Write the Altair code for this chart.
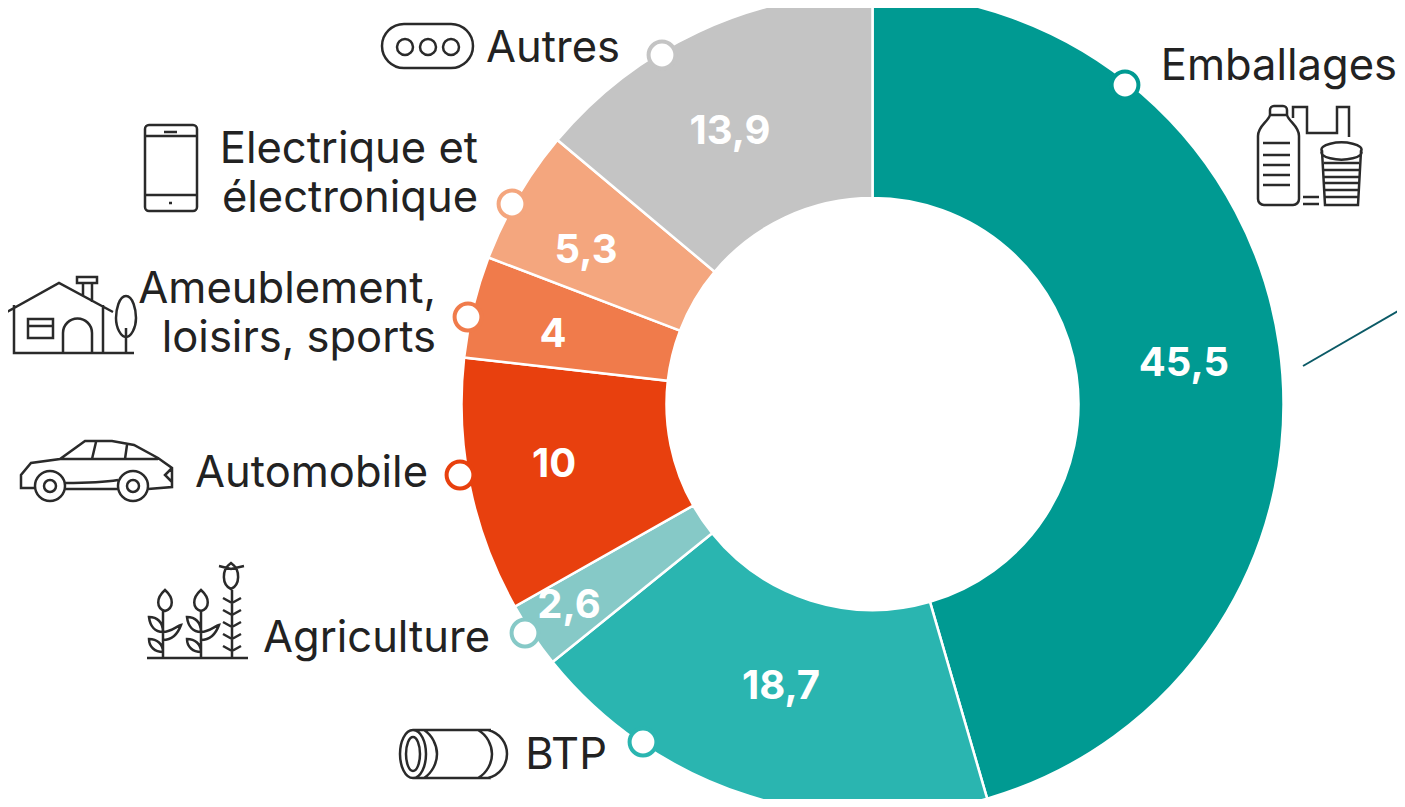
import altair as alt
import pandas as pd

# ---- chart values -------------------------------------------------------
SECTORS = ["Emballages", "BTP", "Agriculture", "Automobile",
           "Ameublement, loisirs, sports", "Electrique et électronique", "Autres"]
VALUES = [45.5, 18.7, 2.6, 10, 4, 5.3, 13.9]
VALUE_TEXT = ["45,5", "18,7", "2,6", "10", "4", "5,3", "13,9"]
COLOURS = ["#009A92", "#2AB5B0", "#86C9C7", "#E8400E", "#F07B4B", "#F4A67E", "#C4C4C4"]
CATEGORY_LINES = ["Emballages", "BTP", "Agriculture", "Automobile", "Ameublement,",
                  "loisirs, sports", "Electrique et", "électronique", "Autres"]

# ---- layout (page pixels) -----------------------------------------------
OFF = 8
CX, CY = 872.5, 404
R_OUT, R_IN = 411, 206
VALUE_X = [1184, 781, 569, 554, 553, 586, 730]
VALUE_Y = [364, 687, 606, 465, 335, 251, 132]
LABEL_X = [1397, 607, 490, 428, 436, 436, 478, 478, 620]
LABEL_Y = [80, 769, 652, 487, 303, 352, 163, 212, 62]
DOT_X = [1125, 643, 525, 460, 468, 512, 662]
DOT_Y = [85, 742, 633, 475, 317, 204, 55]

ICONS = [
    # Autres: pill with three rings
    "M404 24H451A22 22 0 0 1 451 68H404A22 22 0 0 1 404 24Z"
    "M413 47A8 8 0 1 1 397 47A8 8 0 1 1 413 47Z"
    "M436 47A8 8 0 1 1 420 47A8 8 0 1 1 436 47Z"
    "M459 47A8 8 0 1 1 443 47A8 8 0 1 1 459 47Z",
    # phone
    "M149 125H193A4 4 0 0 1 197 129V207A4 4 0 0 1 193 211H149A4 4 0 0 1 145 207V129A4 4 0 0 1 149 125Z"
    "M145 136H197M145 195H197M164 132H177M169 203H172",
    # house with tree
    "M5 313L59 283L113 312M14 305V353H134M103 305V353M28 319H53V338H28ZM28 326H53"
    "M63 353V333A14 14 0 0 1 92 333V353M77 277H97V283H77ZM83 283V296M92 283V302"
    "M126 296C133 296 136 310 136 318C136 328 131 337 126 337C121 337 116 328 116 318C116 310 119 296 126 296Z"
    "M126 328V353",
    # car
    "M35 488H21V475L31 463L60 459L85 441H112L134 445L158 458L172 468V487L148 489"
    "M60 459H158M96 442L92 459M127 445L125 459M65 483C85 483 100 483 118 480M65 489H118M172 468L165 475L172 482"
    "M65 486A15 15 0 1 1 35 486A15 15 0 1 1 65 486Z M56 486A6 6 0 1 1 44 486A6 6 0 1 1 56 486Z"
    "M148 486A15 15 0 1 1 118 486A15 15 0 1 1 148 486Z M139 486A6 6 0 1 1 127 486A6 6 0 1 1 139 486Z",
    # plants
    "M147 658H248M163 658V610M201 658V610M232 658V588"
    "M165 590C174 598 174 608 165 611C156 608 156 598 165 590Z"
    "M201 590C210 598 210 608 201 611C192 608 192 598 201 590Z"
    "M231 563C241 570 240 585 231 589C222 585 221 570 231 563ZM231 569L219 566M231 569L244 566"
    "M163 632C155 632 150 626 149 617C157 617 163 622 163 632ZM163 632C171 632 177 626 181 625C177 636 170 640 163 640"
    "M163 652C155 652 149 647 149 639C157 639 163 644 163 652Z"
    "M201 632C193 632 188 626 187 617C195 617 201 622 201 632ZM201 632C209 632 215 626 219 625C215 636 208 640 201 640"
    "M201 652C193 652 187 647 187 639C195 639 201 644 201 652Z"
    "M232 603L223 598M232 603L241 598M232 615L223 610M232 615L241 610M232 627L223 622M232 627L241 622"
    "M232 639L223 634M232 639L241 634M232 651L223 646M232 651L241 646",
    # pipe
    "M413 730H491M413 778H491M413 730C405 730 400 742 400 754C400 766 405 778 413 778C421 778 426 766 426 754C426 742 421 730 413 730Z"
    "M413 737C409 737 406 745 406 754C406 763 409 771 413 771C417 771 420 763 420 754C420 745 417 737 413 737Z"
    "M424 730C432 735 437 745 437 754C437 763 432 773 424 778"
    "M478 730C487 735 492 745 492 754C492 763 487 773 478 778"
    "M488 730C500 733 507 743 507 754C507 765 500 775 488 778",
    # bottle, bag, cup
    "M1270 115V110A4 4 0 0 1 1274 106H1283A4 4 0 0 1 1287 110V115H1270ZM1270 115C1268 122 1258 126 1258 136V199A6 6 0 0 0 1264 205H1293A6 6 0 0 0 1299 199V136C1299 126 1289 122 1287 115"
    "M1263 143H1290M1263 155H1290M1263 165H1290M1263 175H1290M1263 185H1290"
    "M1293 118V107H1307V133H1337V107H1349V137"
    "M1322 151A20 7 0 1 1 1361 151A20 7 0 1 1 1322 151ZM1322 151L1325 205H1358L1361 151"
    "M1324 163H1359M1324 170H1359M1324 177H1359M1325 183H1358M1325 190H1358M1325 197H1358"
    "M1303 197H1319M1303 204H1319",
]

sectors = pd.DataFrame({"sector": SECTORS, "value": VALUES, "colour": COLOURS,
                        "idx": range(len(VALUES)), "text": VALUE_TEXT,
                        "vx": [v - OFF for v in VALUE_X], "vy": [v - OFF for v in VALUE_Y],
                        "dx": [v - OFF for v in DOT_X], "dy": [v - OFF for v in DOT_Y]})
labels = pd.DataFrame({"line": CATEGORY_LINES,
                       "lx": [v - OFF for v in LABEL_X], "ly": [v - OFF for v in LABEL_Y]})

donut = alt.Chart(sectors).mark_arc(
    innerRadius=R_IN, outerRadius=R_OUT, stroke="white", strokeWidth=2.5
).encode(
    theta=alt.Theta("value:Q", stack=True),
    order=alt.Order("idx:Q"),
    color=alt.Color("colour:N", scale=None, legend=None),
    x=alt.value(CX - OFF), y=alt.value(CY - OFF),
)

dots = alt.Chart(sectors).mark_point(
    filled=True, fill="white", size=720, strokeWidth=4, opacity=1
).encode(
    x=alt.X("dx:Q", scale=None, axis=None),
    y=alt.Y("dy:Q", scale=None, axis=None),
    stroke=alt.Stroke("colour:N", scale=None, legend=None),
)

value_text = alt.Chart(sectors).mark_text(
    font="Inter", fontSize=40, fontWeight=700, color="white", align="center", baseline="middle"
).encode(
    x=alt.X("vx:Q", scale=None, axis=None),
    y=alt.Y("vy:Q", scale=None, axis=None),
    text="text:N",
)

label_text = alt.Chart(labels).mark_text(
    font="Inter", fontSize=43.5, color="#222222", align="right", baseline="alphabetic"
).encode(
    x=alt.X("lx:Q", scale=None, axis=None),
    y=alt.Y("ly:Q", scale=None, axis=None),
    text="line:N",
)

icon_layers = [
    alt.Chart(pd.DataFrame({"k": [i]})).mark_point(
        shape=path, size=4, filled=False, stroke="#2a2a2a", strokeWidth=2.5, opacity=1
    ).encode(x=alt.value(-OFF), y=alt.value(-OFF))
    for i, path in enumerate(ICONS)
]

leader = alt.Chart(pd.DataFrame({"k": [0]})).mark_rule(color="#0B5A66", strokeWidth=2).encode(
    x=alt.value(1303 - OFF), x2=alt.value(1405 - OFF), y=alt.value(366 - OFF), y2=alt.value(307 - OFF)
)

chart = alt.layer(donut, leader, *icon_layers, dots, value_text, label_text).properties(
    width=1389, height=791, padding=0, autosize=alt.AutoSizeParams(type="none"),
    background="white"
).configure_view(stroke=None)

chart.save("out.html", embed_options={"renderer": "svg", "actions": False})
